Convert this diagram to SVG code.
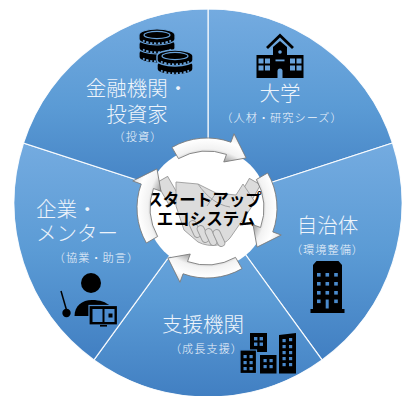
<svg xmlns="http://www.w3.org/2000/svg" width="406" height="396" viewBox="0 0 406 396">
  <style>
    .sector { stroke: #ffffff; stroke-width: 1.2; stroke-opacity: 0.9; }
    .label { font-family: "Noto Sans CJK JP", "Noto Sans CJK SC", sans-serif; fill: #eef4fb; font-weight: 300; text-anchor: middle; }
    .big { font-size: 20.5px; }
    .small { font-size: 11.2px; letter-spacing: 1px; }
    .core { font-family: "Noto Sans CJK JP", "Noto Sans CJK SC", sans-serif; font-weight: 700; font-size: 16.5px; fill: #000000; text-anchor: middle; }
    .ico { fill: #000000; }
    .hand { fill: #dcdcdc; stroke: #9c9c9c; stroke-width: 0.9; stroke-linejoin: round; }
    .arrow { fill: url(#arrowFill); stroke: #7a7a7a; stroke-width: 0.9; stroke-linejoin: round; }
  </style>
  <defs>
    <linearGradient id="segFill" x1="0" y1="0" x2="0" y2="1">
      <stop offset="0" stop-color="#74abe0"/>
      <stop offset="0.5" stop-color="#5b9bd5"/>
      <stop offset="1" stop-color="#417fc2"/>
    </linearGradient>
    <radialGradient id="arrowFill" gradientUnits="userSpaceOnUse" cx="207" cy="208" r="79">
      <stop offset="0.64" stop-color="#a8a8a8"/>
      <stop offset="0.75" stop-color="#f2f2f2"/>
      <stop offset="0.88" stop-color="#ffffff"/>
      <stop offset="1" stop-color="#e4e4e4"/>
    </radialGradient>
    <!-- one curved cycle arrow, tail at -120deg, head tip at -52deg -->
    <path id="cycArrow" class="arrow" d="M172,147.38 A70,70 0 0 1 230.94,142.22 L234.02,133.76 L246.1,157.96 L223.76,161.96 L226.49,154.44 A57,57 0 0 0 178.5,158.64 Z"/>
  </defs>

  <!-- university -->
  <g id="node-university">
    <path class="sector" fill="url(#segFill)" d="M208,203 L208,9 A194,194 0 0 1 392.5,143.05 Z"/>
    <g id="icon-school">
      <path d="M267,48 L280,35.5 L293,48" fill="none" stroke="#000" stroke-width="2.8"/>
      <rect class="ico" x="256.5" y="55" width="47" height="23"/>
      <path class="ico" d="M273,78 L273,47 L280,41 L287,47 L287,78 Z"/>
      <g fill="#68a2da">
        <circle cx="280" cy="52" r="1.8"/>
        <rect x="275.5" y="59.5" width="9" height="1.8"/>
        <path d="M277.5,78 L277.5,71 A2.5,2.5 0 0 1 282.5,71 L282.5,78 Z"/>
        <rect x="258.5" y="58.5" width="5" height="5"/>
        <rect x="265" y="58.5" width="5" height="5"/>
        <rect x="258.5" y="65.5" width="5" height="5"/>
        <rect x="265" y="65.5" width="5" height="5"/>
        <rect x="290" y="58.5" width="5" height="5"/>
        <rect x="296.5" y="58.5" width="5" height="5"/>
        <rect x="290" y="65.5" width="5" height="5"/>
        <rect x="296.5" y="65.5" width="5" height="5"/>
      </g>
    </g>
    <text class="label big" x="280" y="100.5">大学</text>
    <text class="label small" x="282" y="122">（人材・研究シーズ）</text>
  </g>

  <!-- local government -->
  <g id="node-government">
    <path class="sector" fill="url(#segFill)" d="M208,203 L392.5,143.05 A194,194 0 0 1 322.03,359.95 Z"/>
    <text class="label big" x="327.5" y="232.5">自治体</text>
    <text class="label small" x="327.5" y="254">（環境整備）</text>
    <g id="icon-office">
      <path class="ico" d="M313,265 L316.5,261 L338.5,261 L342,265 L342,309 L344.5,309 L344.5,313 L310.5,313 L310.5,309 L313,309 Z"/>
      <g fill="#4a8acc">
        <rect x="317" y="273" width="3.6" height="3.6"/>
        <rect x="325.5" y="273" width="3.6" height="3.6"/>
        <rect x="334.2" y="273" width="3.6" height="3.6"/>
        <rect x="317" y="282" width="3.6" height="3.6"/>
        <rect x="325.5" y="282" width="3.6" height="3.6"/>
        <rect x="334.2" y="282" width="3.6" height="3.6"/>
        <rect x="317" y="291" width="3.6" height="3.6"/>
        <rect x="325.5" y="291" width="3.6" height="3.6"/>
        <rect x="334.2" y="291" width="3.6" height="3.6"/>
        <rect x="317" y="299.5" width="3.6" height="3.6"/>
        <rect x="325.7" y="299.5" width="3" height="9"/>
        <rect x="334.2" y="299.5" width="3.6" height="3.6"/>
      </g>
    </g>
  </g>

  <!-- support organisations -->
  <g id="node-support">
    <path class="sector" fill="url(#segFill)" d="M208,203 L322.03,359.95 A194,194 0 0 1 93.97,359.95 Z"/>
    <text class="label big" x="203" y="331.5">支援機関</text>
    <text class="label small" x="206.5" y="353">（成長支援）</text>
    <g id="icon-buildings">
      <rect class="ico" x="250" y="333" width="17" height="19"/>
      <rect class="ico" x="240" y="350" width="16.5" height="23.5" stroke="#4888cb" stroke-width="1.2"/>
      <rect class="ico" x="260" y="355" width="16.5" height="18.5"/>
      <path class="ico" d="M279,335 L296,333 L296,373.5 L279,373.5 Z"/>
      <g fill="#4888cb">
        <rect x="254" y="337" width="3.4" height="3.4"/>
        <rect x="259.6" y="337" width="3.4" height="3.4"/>
        <rect x="254" y="342.5" width="3.4" height="3.4"/>
        <rect x="259.6" y="342.5" width="3.4" height="3.4"/>
        <rect x="243.5" y="355" width="3.2" height="3.2"/>
        <rect x="249.5" y="355" width="3.2" height="3.2"/>
        <rect x="243.5" y="361" width="3.2" height="3.2"/>
        <rect x="249.5" y="361" width="3.2" height="3.2"/>
        <rect x="243.5" y="367" width="3.2" height="3.2"/>
        <rect x="249.5" y="367" width="3.2" height="3.2"/>
        <rect x="263.5" y="359" width="3.2" height="3.2"/>
        <rect x="269.5" y="359" width="3.2" height="3.2"/>
        <rect x="263.5" y="365" width="3.2" height="3.2"/>
        <rect x="269.5" y="365" width="3.2" height="3.2"/>
        <rect x="282.5" y="339" width="3.2" height="3.2"/>
        <rect x="289" y="338" width="3.2" height="3.2"/>
        <rect x="282.5" y="345" width="3.2" height="3.2"/>
        <rect x="289" y="345" width="3.2" height="3.2"/>
        <rect x="282.5" y="351" width="3.2" height="3.2"/>
        <rect x="289" y="351" width="3.2" height="3.2"/>
        <rect x="282.5" y="357" width="3.2" height="3.2"/>
        <rect x="289" y="357" width="3.2" height="3.2"/>
        <rect x="282.5" y="363" width="3.2" height="3.2"/>
        <rect x="289" y="363" width="3.2" height="3.2"/>
      </g>
    </g>
  </g>

  <!-- companies and mentors -->
  <g id="node-mentors">
    <path class="sector" fill="url(#segFill)" d="M208,203 L93.97,359.95 A194,194 0 0 1 23.5,143.05 Z"/>
    <text class="label big" x="36" y="216.5" style="text-anchor:start">企業・</text>
    <text class="label big" x="36" y="241" style="text-anchor:start">メンター</text>
    <text class="label small" x="96.5" y="262">（協業・助言）</text>
    <g id="icon-teacher">
      <circle class="ico" cx="91" cy="283" r="10"/>
      <path class="ico" d="M74.5,316 C74.5,306 82,300 92,300 C100,300 106,302 110,306 L110,316 Z"/>
      <line x1="61" y1="291" x2="66.5" y2="310" stroke="#000" stroke-width="1.5"/>
      <circle class="ico" cx="66.5" cy="313" r="4.2"/>
      <rect class="ico" x="89" y="305.5" width="28.5" height="19.5" stroke="#4d8cce" stroke-width="1.2"/>
      <rect x="92.5" y="309" width="10" height="13" fill="#4d8cce"/>
      <rect x="104.5" y="309" width="10" height="13" fill="#4d8cce"/>
      <rect class="ico" x="108.5" y="313.5" width="4" height="4"/>
      <rect class="ico" x="100" y="325" width="7" height="1.6"/>
    </g>
  </g>

  <!-- financial institutions and investors -->
  <g id="node-finance">
    <path class="sector" fill="url(#segFill)" d="M208,203 L23.5,143.05 A194,194 0 0 1 208,9 Z"/>
    <g id="icon-coins" stroke="#68a2da">
      <!-- back stack -->
      <path class="ico" stroke-width="1.2" d="M139,53 A18,6 0 0 1 175,53 L175,57 A18,6 0 0 1 139,57 Z"/>
      <path d="M143,58.5 A16,5.5 0 0 0 171,58.5" fill="none" stroke-width="1.8" stroke-dasharray="2.2 1.6"/>
      <path class="ico" stroke-width="1.2" d="M139,44 A18,6 0 0 1 175,44 L175,48 A18,6 0 0 1 139,48 Z"/>
      <path d="M143,49.5 A16,5.5 0 0 0 171,49.5" fill="none" stroke-width="1.8" stroke-dasharray="2.2 1.6"/>
      <path class="ico" stroke-width="1.2" d="M139,35 A18,6 0 0 1 175,35 L175,39 A18,6 0 0 1 139,39 Z"/>
      <path d="M143,40.5 A16,5.5 0 0 0 171,40.5" fill="none" stroke-width="1.8" stroke-dasharray="2.2 1.6"/>
      <ellipse cx="157" cy="35" rx="13" ry="3.6" fill="none" stroke-width="1.1"/>
      <!-- front stack -->
      <path class="ico" stroke-width="1.4" d="M157,65 A18,6 0 0 1 193,65 L193,69 A18,6 0 0 1 157,69 Z"/>
      <path d="M161,70.5 A16,5.5 0 0 0 189,70.5" fill="none" stroke-width="1.8" stroke-dasharray="2.2 1.6"/>
      <path class="ico" stroke-width="1.4" d="M157,56 A18,6 0 0 1 193,56 L193,60 A18,6 0 0 1 157,60 Z"/>
      <path d="M161,61.5 A16,5.5 0 0 0 189,61.5" fill="none" stroke-width="1.8" stroke-dasharray="2.2 1.6"/>
      <ellipse cx="175" cy="56" rx="13" ry="3.6" fill="none" stroke-width="1.1"/>
    </g>
    <text class="label big" x="137" y="95.5">金融機関・</text>
    <text class="label big" x="137" y="121.5">投資家</text>
    <text class="label small" x="138" y="141">（投資）</text>
  </g>

  <!-- centre: startup ecosystem -->
  <g id="node-ecosystem">
    <circle cx="207" cy="208" r="61" fill="#ffffff"/>
    <g id="handshake">
      <rect class="hand" x="-6.5" y="-12" width="13" height="24" transform="translate(168,190) rotate(-30)"/>
      <rect class="hand" x="-6.5" y="-12" width="13" height="24" transform="translate(249,192) rotate(30)"/>
      <path class="hand" d="M176,182 L198,184 L216,193 L236,195 L243,184 L255,202 L244,218 L230,238 C224,246 210,248 198,242 L184,230 L176,206 Z"/>
      <path d="M198,184 C206,196 217,205 230,207 M216,193 L207,206" fill="none" stroke="#9c9c9c" stroke-width="0.9"/>
      <rect class="hand" x="-3.5" y="-9" width="7" height="18" rx="3.5" transform="translate(195,229) rotate(-25)"/>
      <rect class="hand" x="-3.5" y="-9" width="7" height="18" rx="3.5" transform="translate(203,234) rotate(-25)"/>
      <rect class="hand" x="-3.5" y="-9" width="7" height="18" rx="3.5" transform="translate(211,237) rotate(-25)"/>
      <rect class="hand" x="-3.5" y="-9" width="7" height="18" rx="3.5" transform="translate(219,238) rotate(-25)"/>
    </g>
    <text class="core" x="204" y="206">スタートアップ</text>
    <text class="core" x="206" y="225">エコシステム</text>
  </g>

  <!-- cycle arrows around the centre -->
  <g id="connectors">
    <use href="#cycArrow"/>
    <use href="#cycArrow" transform="rotate(90 207 208)"/>
    <use href="#cycArrow" transform="rotate(180 207 208)"/>
    <use href="#cycArrow" transform="rotate(270 207 208)"/>
  </g>
</svg>
